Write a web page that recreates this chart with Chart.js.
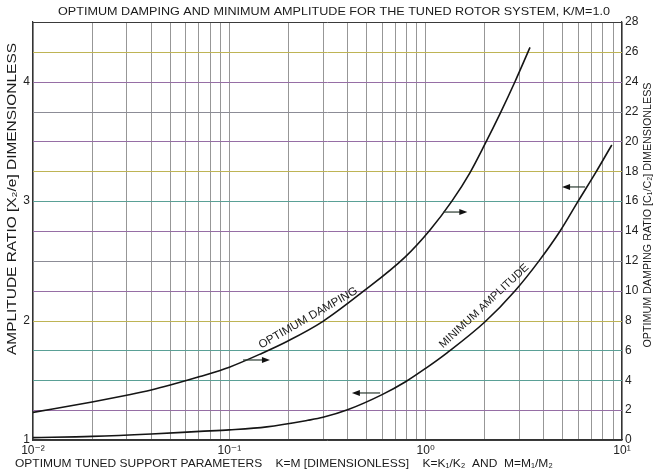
<!DOCTYPE html>
<html><head><meta charset="utf-8">
<style>html,body{margin:0;padding:0;background:#fff}canvas{display:block}</style>
<script src="https://cdn.jsdelivr.net/npm/chart.js@4"></script>
</head><body>
<canvas id="c" width="661" height="474"></canvas>
<script>
// ---- data ----
const dampingX = [0.01, 0.02, 0.03, 0.04, 0.05, 0.0708, 0.1, 0.146, 0.2, 0.3, 0.47, 0.785, 1.05, 1.36, 1.68, 2.0, 2.39, 2.85, 3.4];
const optimumDamping = [1.85, 2.55, 3.0, 3.35, 3.68, 4.25, 4.88, 5.8, 6.65, 7.95, 9.85, 12.25, 14.05, 16.0, 17.9, 19.8, 21.85, 24.0, 26.3];
const amplitudeX = [0.01, 0.02, 0.04, 0.0708, 0.1, 0.155, 0.251, 0.3, 0.4, 0.6, 0.794, 1.0, 1.285, 2.007, 2.855, 3.78, 4.84, 5.98, 7.38, 8.87];
const minimumAmplitude = [1.02, 1.03, 1.05, 1.072, 1.085, 1.11, 1.165, 1.19, 1.253, 1.38, 1.49, 1.6, 1.73, 1.99, 2.25, 2.5, 2.75, 3.0, 3.245, 3.47];
const decadeValues = [0.01, 0.1, 1, 10];
const decadeLabels = ['10\u207B\u00B2', '10\u207B\u00B9', '10\u2070', '10\u00B9'];
const leftTickValues = [1, 2, 3, 4];
const rightTickValues = [0, 2, 4, 6, 8, 10, 12, 14, 16, 18, 20, 22, 24, 26, 28];
const titleText = 'OPTIMUM DAMPING AND MINIMUM AMPLITUDE FOR THE TUNED ROTOR SYSTEM, K/M=1.0';
const xTitleText = 'OPTIMUM TUNED SUPPORT PARAMETERS    K=M [DIMENSIONLESS]    K=K\u2081/K\u2082  AND  M=M\u2081/M\u2082';
const yLeftTitleText = 'AMPLITUDE RATIO [X\u2082/e] DIMENSIONLESS';
const yRightTitleText = 'OPTIMUM DAMPING RATIO [C\u2081/C\u2082] DIMENSIONLESS';
const curveLabels = ['OPTIMUM DAMPING', 'MINIMUM AMPLITUDE'];
const curveLabelAnchors = [[0.252, 8.17], [1.984, 8.97]];   // (x, right-axis value)
const arrowFrom = [[0.1175, 5.36], [0.586, 3.15], [1.23, 15.27], [6.49, 16.95]];
const arrowTo   = [[0.161, 5.36], [0.421, 3.15], [1.63, 15.27], [4.95, 16.95]];

// ---- styles ----
const FONT = '"Liberation Sans", Arial, "DejaVu Sans", sans-serif';
const PURPLE = 'rgb(150,110,165)', TEAL = 'rgb(90,160,150)', OLIVE = 'rgb(190,180,85)', GREY = 'rgb(140,140,150)', DARK = '#3a3a3a';
// one colour per horizontal grid line, bottom (0) to top (28)
const hGridColors = [DARK, PURPLE, TEAL, TEAL, OLIVE, PURPLE, GREY, PURPLE, TEAL, OLIVE, PURPLE, GREY, PURPLE, OLIVE, DARK];
const labelStyle = [{angle:-30, size:11.5, width:112}, {angle:-43, size:11, width:118}];

function fitText(ctx, text, cx, cy, width, size, angleDeg) {
  ctx.save();
  ctx.font = size + 'px ' + FONT;
  const w = ctx.measureText(text).width;
  ctx.translate(cx, cy);
  ctx.rotate(angleDeg * Math.PI / 180);
  ctx.scale(width / w, 1);
  ctx.textAlign = 'center';
  ctx.textBaseline = 'middle';
  ctx.fillStyle = '#1a1a1a';
  ctx.fillText(text, 0, 0);
  ctx.restore();
}

const decorPlugin = {
  id: 'decor',
  beforeDatasetsDraw(chart) {
    // coloured horizontal rulings at the right-axis ticks
    const {ctx, chartArea: a} = chart; const yR = chart.scales.yR;
    ctx.save();
    ctx.lineWidth = 1;
    yR.ticks.forEach((t, i) => {
      const y = Math.round(yR.getPixelForValue(t.value)) + 0.5;
      ctx.strokeStyle = hGridColors[i] || GREY;
      ctx.beginPath(); ctx.moveTo(a.left, y); ctx.lineTo(a.right, y); ctx.stroke();
    });
    ctx.restore();
  },
  afterDatasetsDraw(chart) {
    const {ctx} = chart; const x = chart.scales.x, yR = chart.scales.yR;
    curveLabels.forEach((t, i) => {
      const a = curveLabelAnchors[i], s = labelStyle[i];
      fitText(ctx, t, x.getPixelForValue(a[0]), yR.getPixelForValue(a[1]), s.width, s.size, s.angle);
    });
    arrowFrom.forEach((f, i) => {
      const t = arrowTo[i];
      const x0 = x.getPixelForValue(f[0]), y0 = yR.getPixelForValue(f[1]);
      const x1 = x.getPixelForValue(t[0]), y1 = yR.getPixelForValue(t[1]);
      const dir = Math.sign(x1 - x0);
      ctx.save();
      ctx.strokeStyle = '#2a3a30'; ctx.lineWidth = 1.2;
      ctx.beginPath(); ctx.moveTo(x0, y0); ctx.lineTo(x1 - dir * 6, y1); ctx.stroke();
      ctx.fillStyle = '#111';
      ctx.beginPath(); ctx.moveTo(x1, y1); ctx.lineTo(x1 - dir * 8, y1 - 3); ctx.lineTo(x1 - dir * 8, y1 + 3); ctx.closePath(); ctx.fill();
      ctx.restore();
    });
  },
  afterDraw(chart) {
    const {ctx} = chart;
    fitText(ctx, titleText, 334, 12, 552, 11, 0);
    fitText(ctx, xTitleText, 284, 464, 538, 11, 0);
    fitText(ctx, yLeftTitleText, 13, 199, 312, 12.5, -90);
    fitText(ctx, yRightTitleText, 648, 215, 265, 11, -90);
  }
};

new Chart(document.getElementById('c'), {
  type: 'line',
  data: { datasets: [
    { label: 'Optimum damping', yAxisID: 'yR', data: dampingX.map((v, i) => ({x: v, y: optimumDamping[i]})),
      borderColor: '#151515', borderWidth: 1.6, pointRadius: 0, fill: false, cubicInterpolationMode: 'monotone' },
    { label: 'Minimum amplitude', yAxisID: 'yL', data: amplitudeX.map((v, i) => ({x: v, y: minimumAmplitude[i]})),
      borderColor: '#151515', borderWidth: 1.6, pointRadius: 0, fill: false, cubicInterpolationMode: 'monotone' }
  ]},
  options: {
    responsive: false, animation: false, devicePixelRatio: 1,
    layout: { padding: { top: 22, left: 0, right: 0, bottom: 0 } },
    plugins: { legend: { display: false }, title: { display: false }, tooltip: { enabled: false } },
    scales: {
      x: {
        type: 'logarithmic', position: 'bottom', min: 0.01, max: 10,
        afterBuildTicks: s => {
          const t = [];
          for (let e = -2; e < 1; e++) for (let m = 1; m < 10; m++) t.push({ value: m * Math.pow(10, e) });
          t.push({ value: 10 });
          s.ticks = t;
        },
        ticks: { autoSkip: false, maxRotation: 0, minRotation: 0, padding: 3, color: '#222', font: { family: FONT, size: 12 },
          callback: v => { const i = decadeValues.findIndex(d => Math.abs(d - v) / d < 1e-6); return i >= 0 ? decadeLabels[i] : ''; } },
        grid: { color: 'rgba(95,95,95,0.65)', lineWidth: 1, drawTicks: false },
        border: { display: true, color: '#333', width: 1.2 },
        afterFit: s => { s.height = 34; }
      },
      yL: {
        type: 'linear', position: 'left', min: 1, max: 4.5,
        afterBuildTicks: s => { s.ticks = leftTickValues.map(v => ({ value: v })); },
        ticks: { padding: 3, color: '#222', font: { family: FONT, size: 12 } },
        grid: { display: false, drawTicks: false },
        border: { display: true, color: '#333', width: 1.2 },
        afterFit: s => { s.width = 33; }
      },
      yR: {
        type: 'linear', position: 'right', min: 0, max: 28,
        afterBuildTicks: s => { s.ticks = rightTickValues.map(v => ({ value: v })); },
        ticks: { padding: 3, color: '#222', font: { family: FONT, size: 12 } },
        grid: { display: false, drawTicks: false },
        border: { display: true, color: '#333', width: 1.2 },
        afterFit: s => { s.width = 39; }
      }
    }
  },
  plugins: [decorPlugin]
});
</script>
</body></html>
